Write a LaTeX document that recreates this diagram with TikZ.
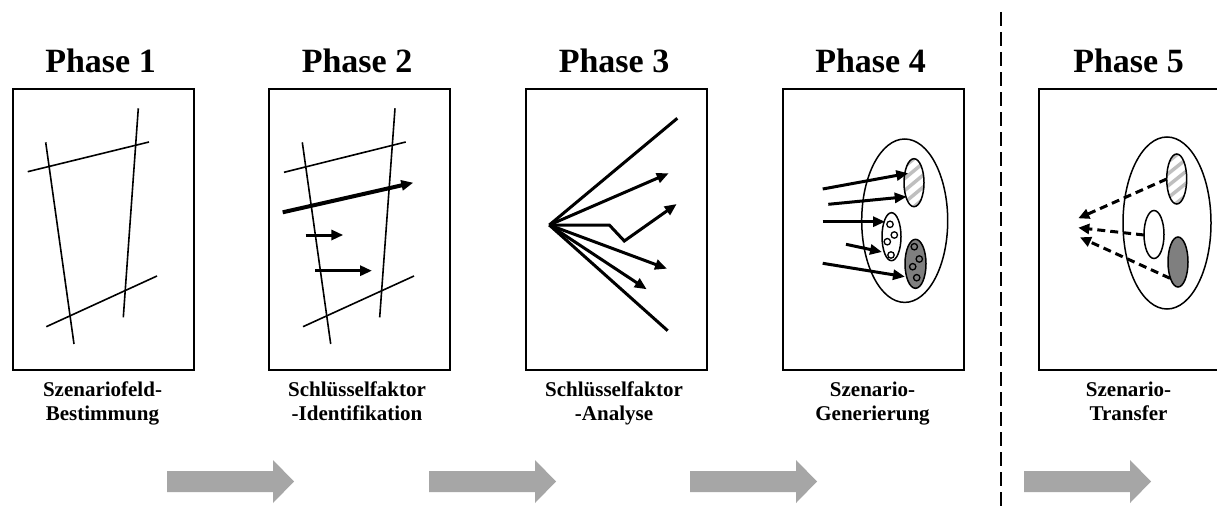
\documentclass[tikz,border=0pt]{standalone}
\usepackage{fontspec}
\setmainfont{Liberation Serif}
\usetikzlibrary{arrows.meta}
\definecolor{arrowgray}{HTML}{A6A6A6}
\definecolor{darkfill}{HTML}{7F7F7F}
\definecolor{stripe}{HTML}{BFBFBF}
\tikzset{
  panel/.style={draw, line width=1.6, minimum width=181, minimum height=281, inner sep=0, anchor=north west},
  phasetitle/.style={font=\bfseries\fontsize{34}{36}\selectfont, anchor=base, inner sep=0},
  caption/.style={font=\bfseries\fontsize{21}{24}\selectfont, align=center, anchor=base, inner sep=0},
  thin/.style={line width=1.6},
  bold/.style={line width=3, -{Triangle[length=12,width=10]}},
  boldline/.style={line width=3},
  dasharrow/.style={line width=3, dash pattern=on 8 off 5, -{Triangle[length=11,width=10]}},
  blob/.style={draw, line width=1.5},
  dot/.style={draw, line width=1.3, fill=white},
  flow/.style={fill=arrowgray},
}
\begin{document}
\begin{tikzpicture}[x=1pt,y=-1pt]
\clip (0,0) rectangle (1217,511);
\fill[white] (0,0) rectangle (1217,511);

% panels
\node[panel] (p1) at (12,88) {};
\node[panel] (p2) at (268,88) {};
\node[panel] (p3) at (525,88) {};
\node[panel] (p4) at (782,88) {};
\node[panel] (p5) at (1038,88) {};

% titles
\foreach \i/\x in {1/100.5,2/357,3/614,4/870.5,5/1128.5}{
  \node[phasetitle] (t\i) at (\x,73) {Phase \i};
}

% captions (anchored at the baseline of the second line)
\node[caption] (c1) at (102.5,420) {Szenariofeld-\\Bestimmung};
\node[caption] (c2) at (357,420) {Schlüsselfaktor\\-Identifikation};
\node[caption] (c3) at (614,420) {Schlüsselfaktor\\-Analyse};
\node[caption] (c4) at (872.5,420) {Szenario-\\Generierung};
\node[caption] (c5) at (1128.5,420) {Szenario-\\Transfer};

% phase 1: scenario field lines
\draw[thin] (27.7,171.7) -- (149,142);
\draw[thin] (45.7,142.3) -- (74,344);
\draw[thin] (138.3,108.3) -- (123.3,317.3);
\draw[thin] (46.3,326.7) -- (157,276);

% phase 2: field lines with key factors
\draw[thin] (284,172.3) -- (405.7,142);
\draw[thin] (302.3,142.3) -- (330.7,344);
\draw[thin] (395,108.3) -- (379.7,317.3);
\draw[thin] (303,326.7) -- (414,276);
\draw[line width=4, -{Triangle[length=12,width=10]}] (282.7,212.3) -- (413.3,182.7);
\draw[bold] (305.7,235) -- (343.3,235);
\draw[bold] (315,270.7) -- (372,270.7);

% phase 3: fan of projections
\coordinate (o3) at (549.3,225);
\draw[boldline] (o3) -- (677.3,118.3);
\draw[bold] (o3) -- (668.7,173.3);
\draw[bold] (o3) -- (609.3,225) -- (624.3,241) -- (676.7,204);
\draw[bold] (o3) -- (667,268.7);
\draw[bold] (o3) -- (646.7,289.3);
\draw[boldline] (o3) -- (667.7,330.7);

% phase 4: scenario generation
\draw[blob] (904.7,220.7) ellipse [x radius=43, y radius=81.7];
\begin{scope}
  \clip (914,182.7) ellipse [x radius=10, y radius=24];
  \fill[white] (914,182.7) ellipse [x radius=10, y radius=24];
  \foreach \k in {-36,-24,...,36}{
    \draw[stripe, line width=3.5] (902,182.7+\k+10) -- (926,182.7+\k-10);
  }
\end{scope}
\draw[blob] (914,182.7) ellipse [x radius=10, y radius=24];
\draw[blob, fill=white] (891.5,236.7) ellipse [x radius=9.5, y radius=24];
\draw[blob, fill=darkfill] (915.5,263.8) ellipse [x radius=10.5, y radius=24.5];
\foreach \p in {(890,224.3),(894.3,235),(887.3,241.7),(891,255)}{
  \draw[dot] \p circle (3.2);
}
\foreach \p in {(914.3,246.7),(919.3,259),(912.7,266.7),(916.7,277.7)}{
  \draw[dot, fill=darkfill] \p circle (3.2);
}
\draw[bold] (822.7,189) -- (908.3,173.3);
\draw[bold] (828.3,204.3) -- (906.7,196.7);
\draw[bold] (822.7,221.7) -- (885,221.7);
\draw[bold] (846,244.3) -- (882,252);
\draw[bold] (822.7,263.3) -- (905,276.7);

% phase 5: scenario transfer
\draw[blob] (1167,223) ellipse [x radius=44, y radius=86];
\begin{scope}
  \clip (1176.7,179) ellipse [x radius=10, y radius=25];
  \fill[white] (1176.7,179) ellipse [x radius=10, y radius=25];
  \foreach \k in {-36,-24,...,36}{
    \draw[stripe, line width=3.5] (1164,179+\k+10) -- (1189,179+\k-10);
  }
\end{scope}
\draw[blob] (1176.7,179) ellipse [x radius=10, y radius=25];
\draw[blob, fill=white] (1154,234.5) ellipse [x radius=10, y radius=24];
\draw[blob, fill=darkfill] (1178,262) ellipse [x radius=10, y radius=25];
\coordinate (s1) at (1166.7,179);
\coordinate (s2) at (1144,235);
\coordinate (s3) at (1170,278.3);
\coordinate (e1) at (1078.3,218.3);
\coordinate (e2) at (1078.3,227.7);
\coordinate (e3) at (1080,237.3);
\draw[dasharrow] (s1) -- (e1);
\draw[dasharrow] (s2) -- (e2);
\draw[dasharrow] (s3) -- (e3);

% separator before the transfer phase
\draw[line width=2, dash pattern=on 14 off 6] (1001,12) -- (1001,511);

% process arrows
\foreach \x/\n in {167/1,429/2,690/3,1024/4}{
  \fill[flow] (\x,471) -- (\x+106,471) -- (\x+106,460) -- (\x+127,481.5)
     -- (\x+106,503) -- (\x+106,492) -- (\x,492) -- cycle;
}
\end{tikzpicture}
\end{document}
